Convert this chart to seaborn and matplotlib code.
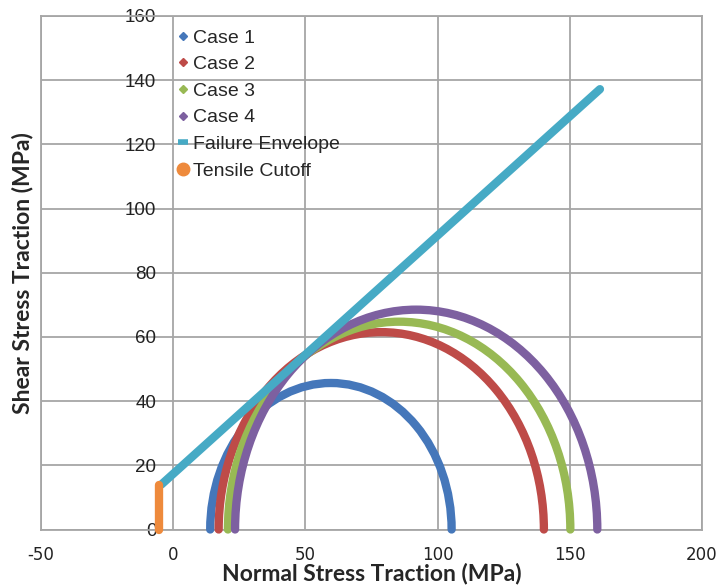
import numpy as np
import pandas as pd
import matplotlib
matplotlib.use("Agg")
import matplotlib.pyplot as plt
from matplotlib.patches import Arc
from matplotlib.lines import Line2D
import seaborn as sns

# ---- data ----
cases = ["Case 1", "Case 2", "Case 3", "Case 4"]
sigma_min = [14.0, 17.2, 20.7, 23.4]      # left end of each Mohr semicircle (MPa)
sigma_max = [105.3, 140.2, 150.2, 160.4]  # right end of each Mohr semicircle (MPa)
envelope_x = [-4.5, 161.4]
envelope_y = [14.0, 137.2]
cutoff_x = [-5.5, -5.5]
cutoff_y = [0.0, 14.0]
x_ticks = [-50, 0, 50, 100, 150, 200]
y_ticks = [0, 20, 40, 60, 80, 100, 120, 140, 160]

case_colors = ["#4577BA", "#BE4B48", "#98B954", "#7D60A0"]
env_color = "#46AAC5"
cut_color = "#EE8A3C"
grid_color = "#A6A6A6"

sns.set_style("white")
plt.rcParams["font.family"] = ["Liberation Sans", "DejaVu Sans"]

fig = plt.figure(figsize=(7.23, 5.88), dpi=100)
ax = fig.add_axes([41 / 723, 1 - 529.5 / 588, (702 - 41) / 723, (529.5 - 16) / 588])

lw = 6.0
for name, lo, hi, col in zip(cases, sigma_min, sigma_max, case_colors):
    c = (lo + hi) / 2.0
    d = hi - lo
    arc = Arc((c, 0), d, d, theta1=0, theta2=180, color=col, lw=lw,
              capstyle="round", zorder=3, clip_on=False)
    ax.add_patch(arc)

env_df = pd.DataFrame({"x": envelope_x, "y": envelope_y})
cut_df = pd.DataFrame({"x": cutoff_x, "y": cutoff_y})
sns.lineplot(data=env_df, x="x", y="y", ax=ax, color=env_color, lw=lw,
             solid_capstyle="round", zorder=4, sort=False, estimator=None,
             clip_on=False)
sns.lineplot(data=cut_df, x="x", y="y", ax=ax, color=cut_color, lw=lw,
             solid_capstyle="round", zorder=4, sort=False, estimator=None,
             clip_on=False)

ax.set_xlim(-50, 200)
ax.set_ylim(0, 160)
ax.set_xticks(x_ticks)
ax.set_yticks(y_ticks)
ax.set_xticklabels([str(v) for v in x_ticks], fontsize=12, family="DejaVu Sans")
ax.set_yticklabels([str(v) for v in y_ticks], fontsize=13.5)
ax.grid(True, color=grid_color, lw=1.3, zorder=0)
ax.set_axisbelow(True)
for s in ax.spines.values():
    s.set_color(grid_color)
    s.set_linewidth(1.3)

ax.tick_params(axis="y", length=0, pad=-83, colors="#222222")
ax.tick_params(axis="x", length=4, width=1.3, color=grid_color, pad=8, labelcolor="#222222")

ax.set_xlabel("Normal Stress Traction (MPa)", fontsize=16.5, fontweight="bold",
              family="Lato", va="baseline")
ax.xaxis.set_label_coords(0.5, -(580.5 - 529.5) / 513.5)
ax.set_ylabel("Shear Stress Traction (MPa)", fontsize=16.5, fontweight="bold",
              family="Lato")
ax.yaxis.set_label_coords(-0.011, 0.5)

handles = [Line2D([], [], ls="none", marker="D", ms=4.5, color=c) for c in case_colors]
handles.append(Line2D([], [], ls="none", marker="_", ms=7, mew=4, color=env_color))
handles.append(Line2D([], [], ls="none", marker="o", ms=9, color=cut_color))
labels = cases + ["Failure Envelope", "Tensile Cutoff"]
ax.legend(handles, labels, loc="upper left", bbox_to_anchor=(0.2, 0.982),
          frameon=False, fontsize=14, handlelength=0.6, handletextpad=0.2,
          labelspacing=0.46, borderaxespad=0, borderpad=0.2)

fig.savefig("out.png", dpi=100)
